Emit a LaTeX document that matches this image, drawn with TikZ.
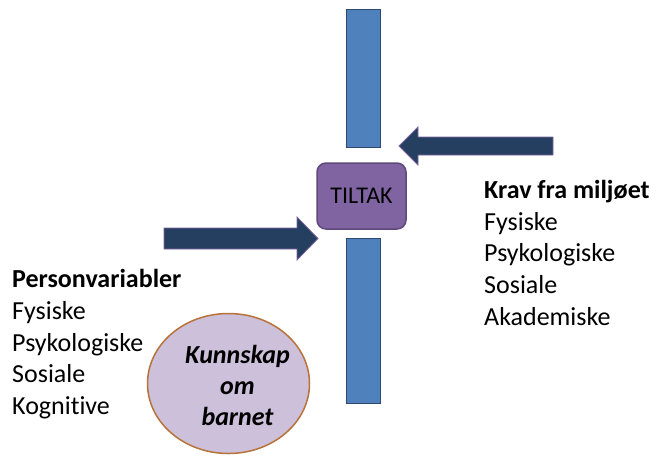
\documentclass[tikz,border=0pt]{standalone}
\usepackage{fontspec}
\setmainfont[Ligatures={NoCommon}]{Carlito}
\usetikzlibrary{shapes.geometric}
\definecolor{barblue}{HTML}{4F81BD}
\definecolor{barline}{HTML}{2E4A6E}
\definecolor{arrowfill}{HTML}{243F60}
\definecolor{arrowline}{HTML}{8064A2}
\definecolor{boxfill}{HTML}{8064A2}
\definecolor{boxline}{HTML}{5F497A}
\definecolor{ellfill}{HTML}{CCC0DA}
\definecolor{ellline}{HTML}{B8733A}
\tikzset{
  bar/.style={fill=barblue, draw=barline, line width=0.8pt},
  bigarrow/.style={fill=arrowfill, draw=arrowline, line width=0.8pt},
  txt/.style={anchor=base west, inner sep=0pt, font=\fontsize{26}{30}\selectfont},
  head/.style={txt, font=\fontsize{26}{30}\selectfont\bfseries},
  elltxt/.style={anchor=base, inner sep=0pt, font=\fontsize{26}{30}\selectfont\bfseries\itshape},
}
\begin{document}
\begin{tikzpicture}[x=1pt,y=-1pt]
\useasboundingbox (0,0) rectangle (658,456);
% bars
\draw[bar] (346,9) rectangle (380,147);
\draw[bar] (346,238) rectangle (380,403);
% arrows
\draw[bigarrow] (164,228) -- (297,228) -- (297,217) -- (318,238.5) -- (297,260) -- (297,249) -- (164,249) -- cycle;
\draw[bigarrow] (553,137) -- (418,137) -- (418,127) -- (399,146) -- (418,165) -- (418,155) -- (553,155) -- cycle;
% central box
\node[draw=boxline, fill=boxfill, line width=1.5pt, rounded corners=9pt, minimum width=89pt, minimum height=66pt, inner sep=0pt, font=\fontsize{24}{28}\selectfont] (tiltak) at (361.5,196) {TILTAK};
% ellipse
\node[ellipse, draw=ellline, fill=ellfill, line width=1.5pt, minimum width=162pt, minimum height=140pt] (ell) at (228.5,383.5) {};
\node[elltxt] (k1) at (237.5,363) {Kunnskap};
\node[elltxt] (k2) at (237.5,394) {om};
\node[elltxt] (k3) at (237.5,425) {barnet};
% left text
\node[head] (pv) at (12,287) {Personvariabler};
\node[txt] (l1) at (12,319) {Fysiske};
\node[txt] (l2) at (12,351) {Psykologiske};
\node[txt] (l3) at (12,382) {Sosiale};
\node[txt] (l4) at (12,414) {Kognitive};
% right text
\node[head] (kr) at (484,198) {Krav fra miljøet};
\node[txt] (r1) at (484,230) {Fysiske};
\node[txt] (r2) at (484,261) {Psykologiske};
\node[txt] (r3) at (484,293) {Sosiale};
\node[txt] (r4) at (484,325) {Akademiske};
\end{tikzpicture}
\end{document}
